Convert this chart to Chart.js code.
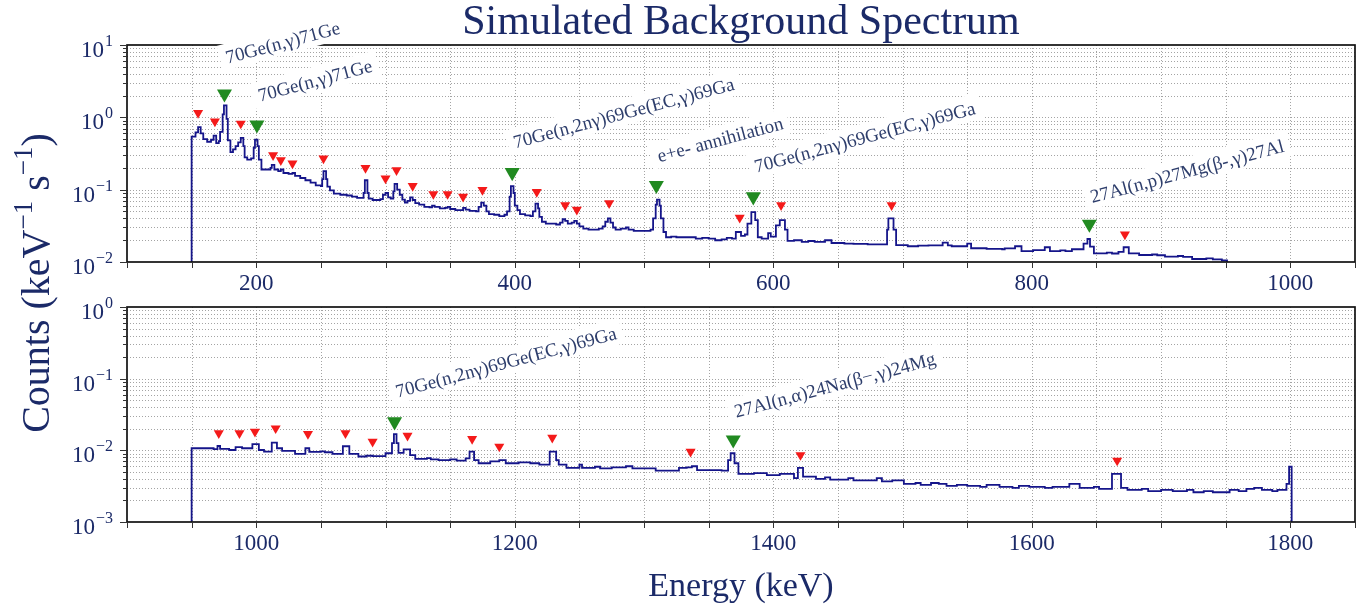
<!DOCTYPE html>
<html><head><meta charset="utf-8">
<script src="https://cdn.jsdelivr.net/npm/chart.js@4.4.1/dist/chart.umd.min.js"></script>
<style>
html,body{margin:0;padding:0;background:#fff;}
#wrap{position:relative;width:1369px;height:608px;overflow:hidden;background:#fff;}
#wrap canvas{position:absolute;left:0;top:0;}
</style></head><body>
<div id="wrap"><canvas id="c1" width="1369" height="608"></canvas><canvas id="c2" width="1369" height="608"></canvas></div>
<script>
// ---------------- DATA ----------------
const topEnergy = [149,150,153,155,157,159,162,165,167,169,171,172,174,175,177,178,180,182,184,186,188,190,191,193,196,198,199,201,202,204,208,211,212,214,217,219,221,225,228,230,234,238,242,246,250,251,252,254,255,257,260,265,270,274,278,283,284,286,287,290,296,298,300,302,304,306,307,309,311,313,315,317,319,321,323,326,330,334,336,338,342,346,348,350,354,358,360,362,365,370,372,374,376,378,380,384,388,392,394,396,397,399,400,402,404,408,412,414,416,418,419,421,424,428,432,435,437,439,441,444,446,448,450,453,457,461,465,468,470,472,474,476,478,482,486,488,492,500,505,507,509,510,512,513,515,517,521,525,530,535,540,545,550,555,560,564,568,571,575,578,580,583,586,588,591,596,598,602,605,609,611,616,622,627,632,640,645,655,662,673,688,689,693,695,704,712,720,731,735,738,750,753,765,777,779,787,792,801,810,814,822,826,831,840,843,845,848,858,862,867,871,875,883,893,897,903,913,917,924,935,940,947,951];
const topCounts = [0.0001,0.54,0.62,0.73,0.60,0.50,0.46,0.49,0.56,0.44,0.47,0.63,1.10,1.46,0.95,0.48,0.33,0.36,0.40,0.45,0.52,0.40,0.28,0.26,0.27,0.38,0.49,0.40,0.26,0.19,0.19,0.20,0.22,0.19,0.18,0.19,0.17,0.165,0.17,0.155,0.145,0.135,0.125,0.115,0.112,0.14,0.18,0.14,0.11,0.098,0.088,0.085,0.083,0.080,0.077,0.090,0.135,0.090,0.075,0.072,0.074,0.085,0.090,0.078,0.075,0.095,0.120,0.100,0.085,0.073,0.066,0.070,0.078,0.072,0.065,0.062,0.058,0.057,0.060,0.058,0.055,0.056,0.058,0.054,0.052,0.052,0.056,0.053,0.051,0.050,0.058,0.066,0.060,0.050,0.046,0.045,0.043,0.045,0.050,0.080,0.112,0.090,0.060,0.052,0.046,0.044,0.043,0.050,0.064,0.055,0.042,0.036,0.034,0.034,0.033,0.035,0.039,0.037,0.034,0.035,0.037,0.034,0.031,0.029,0.028,0.028,0.029,0.031,0.036,0.040,0.035,0.030,0.028,0.029,0.030,0.028,0.027,0.027,0.028,0.040,0.062,0.073,0.060,0.040,0.026,0.022,0.0225,0.022,0.022,0.022,0.021,0.0215,0.021,0.020,0.0205,0.0215,0.021,0.026,0.023,0.024,0.034,0.049,0.038,0.022,0.021,0.025,0.0225,0.032,0.038,0.028,0.0196,0.020,0.019,0.0195,0.019,0.020,0.0183,0.018,0.0178,0.0175,0.028,0.040,0.028,0.0171,0.0165,0.0168,0.017,0.0185,0.017,0.0165,0.018,0.0155,0.0152,0.015,0.0154,0.0165,0.0141,0.0146,0.016,0.0141,0.0145,0.0141,0.015,0.018,0.0208,0.0163,0.0132,0.0135,0.0131,0.0138,0.016,0.0132,0.0125,0.0127,0.0124,0.0119,0.0121,0.0118,0.011,0.0112,0.0109,0.0105,0.0001];

const botEnergy = [949,950,967,970,972,979,984,989,997,1002,1006,1012,1016,1020,1030,1038,1041,1050,1053,1059,1067,1072,1079,1085,1090,1100,1105,1106.5,1108.5,1110,1114,1119,1123,1132,1135,1141,1150,1155,1162,1165,1168.5,1172,1181,1188,1193,1203,1212,1219,1227,1232,1234,1240,1250,1252,1262,1266,1275,1286,1291,1309,1327,1333,1337,1341,1360,1365,1367,1370,1373,1385,1395,1405,1416,1419,1423,1433,1440,1444,1449,1458,1462,1468,1480,1484,1492,1501,1510,1514,1522,1528,1534,1542,1550,1560,1565,1575,1585,1590,1598,1610,1616,1629,1637,1648,1652,1662,1669,1674,1685,1690,1700,1709,1720,1725,1733,1740,1753,1760,1766,1772,1778,1786,1790,1797,1799,1801];
const botCounts = [0.0001,0.0107,0.0104,0.0115,0.0105,0.0101,0.0111,0.0107,0.0122,0.0101,0.0096,0.0128,0.0107,0.0098,0.0089,0.0107,0.0095,0.0097,0.0094,0.0089,0.0114,0.0089,0.0082,0.0084,0.0083,0.0091,0.0126,0.0168,0.0126,0.0092,0.0103,0.0086,0.0076,0.0078,0.0075,0.0073,0.0075,0.0072,0.0077,0.0096,0.0073,0.0066,0.0070,0.0073,0.0066,0.0068,0.0066,0.0063,0.0096,0.0073,0.0063,0.0057,0.0063,0.0057,0.0059,0.0056,0.0058,0.0060,0.0056,0.0052,0.0057,0.0058,0.0060,0.0053,0.0052,0.0073,0.0091,0.0066,0.0047,0.0048,0.0045,0.0047,0.0041,0.0057,0.0043,0.0040,0.0042,0.0039,0.0039,0.0041,0.0038,0.0038,0.0041,0.0037,0.0038,0.0034,0.0035,0.0033,0.0035,0.0034,0.0032,0.0033,0.0032,0.0031,0.0033,0.0031,0.0030,0.0032,0.0031,0.0030,0.0031,0.0034,0.0030,0.0031,0.0029,0.0047,0.0030,0.0028,0.0029,0.0027,0.0028,0.0027,0.0028,0.0026,0.0027,0.0026,0.0028,0.0027,0.0029,0.0030,0.0028,0.0027,0.0028,0.0034,0.0059,0.0001];

const topRedE = [155,168,188,213,219,228,252,284.5,300,308.5,321,337,348,360,375,417,439,448,473,574,606,691.5,872];
const topRedC = [1.15,0.88,0.82,0.30,0.255,0.23,0.27,0.20,0.143,0.186,0.113,0.087,0.087,0.080,0.099,0.093,0.061,0.053,0.065,0.041,0.061,0.061,0.024];
const topGreenE = [175.4,200.5,398,509.5,584.5,844.5];
const topGreenC = [2.12,0.79,0.173,0.115,0.080,0.0334];
const topLabels = ['70Ge(n,γ)71Ge','70Ge(n,γ)71Ge','70Ge(n,2nγ)69Ge(EC,γ)69Ga','e+e- annihilation','70Ge(n,2nγ)69Ge(EC,γ)69Ga','27Al(n,p)27Mg(β-,γ)27Al'];

const botRedE = [971,987,999,1015,1040,1069,1090,1117,1167,1188,1229,1336,1421,1666];
const botRedC = [0.0173,0.0173,0.0182,0.0203,0.0169,0.0173,0.0132,0.016,0.0144,0.0113,0.015,0.0096,0.0086,0.0072];
const botGreenE = [1107,1369];
const botGreenC = [0.0251,0.014];
const botLabels = ['70Ge(n,2nγ)69Ge(EC,γ)69Ga','27Al(n,α)24Na(β−,γ)24Mg'];

const topXTicks = [100,150,200,250,300,350,400,450,500,550,600,650,700,750,800,850,900,950,1000,1050];
const topXLabels = [200,400,600,800,1000];
const botXTicks = [900,950,1000,1050,1100,1150,1200,1250,1300,1350,1400,1450,1500,1550,1600,1650,1700,1750,1800,1850];
const botXLabels = [1000,1200,1400,1600,1800];
const topDecades = [-2,-1,0,1];
const botDecades = [-3,-2,-1,0];

const titleText = 'Simulated Background Spectrum';
const xTitle = 'Energy (keV)';

// ---------------- STYLE / LAYOUT ----------------
const SERIF = '"Liberation Serif","Times New Roman",Times,serif';
const NAVY = '#1b2a68';
const ANNO = '#2e3e6c';
const LINE = '#15158a';
const RED = '#f41a1a';
const GREEN = '#218a21';
const GRID = '#a4a4a4';
const topLabelDy = [30,23,24,23,24,21];
const botLabelDy = [24,22];
const LABEL_ANGLE = -15 * Math.PI / 180;
const LABEL_FONT = 19;

function minorTicks(decades){
  const out = [];
  decades.forEach((d, i) => {
    const last = i === decades.length - 1;
    for (let m = 1; m <= (last ? 1 : 9); m++) out.push(m * Math.pow(10, d));
  });
  return out;
}
function isPow10(v){ const l = Math.log10(v); return Math.abs(l - Math.round(l)) < 1e-6; }

function decorPlugin(o){
  return {
    id: 'decor' + o.id,
    beforeDatasetsDraw(chart){
      const {ctx, chartArea:a, scales:{x, y}} = chart;
      ctx.save();
      ctx.strokeStyle = GRID; ctx.lineWidth = 1; ctx.setLineDash([1,2]);
      x.ticks.forEach(t => {
        const p = Math.round(x.getPixelForValue(t.value)) + 0.5;
        if (p <= a.left + 2 || p >= a.right - 2) return;
        ctx.beginPath(); ctx.moveTo(p, a.top); ctx.lineTo(p, a.bottom); ctx.stroke();
      });
      y.ticks.forEach(t => {
        const p = Math.round(y.getPixelForValue(t.value)) + 0.5;
        if (p <= a.top + 2 || p >= a.bottom - 2) return;
        ctx.beginPath(); ctx.moveTo(a.left, p); ctx.lineTo(a.right, p); ctx.stroke();
      });
      ctx.restore();
    },
    afterDraw(chart){
      const {ctx, chartArea:a, scales:{x, y}} = chart;
      ctx.save();
      ctx.strokeStyle = '#111'; ctx.lineWidth = 1.7;
      ctx.strokeRect(a.left, a.top, a.right - a.left, a.bottom - a.top);
      ctx.lineWidth = 1; ctx.strokeStyle = '#333';
      x.ticks.forEach(t => {
        const p = Math.round(x.getPixelForValue(t.value)) + 0.5;
        ctx.beginPath(); ctx.moveTo(p, a.bottom); ctx.lineTo(p, a.bottom + 6); ctx.stroke();
      });
      y.ticks.forEach(t => {
        const p = Math.round(y.getPixelForValue(t.value)) + 0.5;
        const len = isPow10(t.value) ? 7 : 4;
        ctx.beginPath(); ctx.moveTo(a.left - len, p); ctx.lineTo(a.left, p); ctx.stroke();
      });
      ctx.fillStyle = NAVY; ctx.textBaseline = 'alphabetic'; ctx.textAlign = 'left';
      o.decades.forEach(d => {
        const p = y.getPixelForValue(Math.pow(10, d));
        const sup = d < 0 ? '\u2212' + (-d) : String(d);
        ctx.font = '23px ' + SERIF; const wb = ctx.measureText('10').width;
        ctx.font = '16px ' + SERIF; const ws = ctx.measureText(sup).width;
        const x0 = a.left - 14 - wb - ws - 1;
        ctx.font = '23px ' + SERIF; ctx.fillText('10', x0, p + 12);
        ctx.font = '16px ' + SERIF; ctx.fillText(sup, x0 + wb + 1, p + 1);
      });
      o.labels.forEach((txt, i) => {
        const px = x.getPixelForValue(o.greenE[i]);
        const py = y.getPixelForValue(o.greenC[i]);
        ctx.save();
        ctx.translate(px + 3, py - o.labelDy[i]);
        ctx.rotate(LABEL_ANGLE);
        ctx.font = LABEL_FONT + 'px ' + SERIF;
        const w = ctx.measureText(txt).width;
        ctx.fillStyle = '#fff';
        ctx.fillRect(-6, -LABEL_FONT - 1, w + 12, LABEL_FONT + 7);
        ctx.fillStyle = ANNO;
        ctx.fillText(txt, 0, 0);
        ctx.restore();
      });
      if (o.extra) o.extra(ctx, a);
      ctx.restore();
    }
  };
}

function buildChart(o){
  const pts = o.energy.map((e, i) => ({x: e, y: o.counts[i]}));
  const red = o.redE.map((e, i) => ({x: e, y: o.redC[i]}));
  const green = o.greenE.map((e, i) => ({x: e, y: o.greenC[i]}));
  const yTicks = minorTicks(o.decades);
  return new Chart(document.getElementById(o.id), {
    type: 'line',
    data: {datasets: [
      {data: pts, stepped: 'before', borderColor: LINE, borderWidth: 1.8, pointRadius: 0, fill: false, order: 3},
      {data: red, showLine: false, pointStyle: 'triangle', rotation: 180, pointRadius: 5.8, pointHoverRadius: 5.8, backgroundColor: RED, pointBackgroundColor: RED, pointBorderWidth: 0, order: 2, clip: false},
      {data: green, showLine: false, pointStyle: 'triangle', rotation: 180, pointRadius: 8.7, pointHoverRadius: 8.7, backgroundColor: GREEN, pointBackgroundColor: GREEN, pointBorderWidth: 0, order: 1, clip: false}
    ]},
    options: {
      responsive: false, animation: false, devicePixelRatio: 1, events: [],
      layout: {padding: o.padding},
      plugins: {legend: {display: false}, tooltip: {enabled: false}, title: {display: false}},
      scales: {
        x: {type: 'linear', min: o.xMin, max: o.xMax,
            afterBuildTicks: s => { s.ticks = o.xTicks.map(v => ({value: v})); },
            afterFit: s => { s.height = 40; },
            grid: {display: false, drawTicks: false}, border: {display: false},
            ticks: {color: NAVY, font: {family: SERIF, size: 23}, padding: 8, maxRotation: 0, minRotation: 0, autoSkip: false,
                    callback: v => o.xLabels.includes(v) ? String(v) : ''}},
        y: {type: 'logarithmic', min: o.yMin, max: o.yMax,
            afterBuildTicks: s => { s.ticks = yTicks.map(v => ({value: v})); },
            afterFit: s => { s.width = 127; },
            grid: {display: false, drawTicks: false}, border: {display: false},
            ticks: {display: false}}
      }
    },
    plugins: [decorPlugin(o)]
  });
}

buildChart({
  id: 'c1', energy: topEnergy, counts: topCounts, redE: topRedE, redC: topRedC, greenE: topGreenE, greenC: topGreenC,
  labels: topLabels, labelDy: topLabelDy, xTicks: topXTicks, xLabels: topXLabels, decades: topDecades,
  xMin: 100, xMax: 1050, yMin: 0.01, yMax: 10,
  padding: {left: 0, right: 14, top: 45, bottom: 306},
  extra: (ctx) => {
    ctx.fillStyle = NAVY; ctx.textAlign = 'center'; ctx.textBaseline = 'alphabetic';
    ctx.font = '42px ' + SERIF; ctx.fillText(titleText, 741, 34);
    ctx.save();
    ctx.translate(49, 283); ctx.rotate(-Math.PI / 2);
    const segs = [['Counts (keV', 40, 0], ['\u22121', 27, -17], [' s', 40, 0], ['\u22121', 27, -17], [')', 40, 0]];
    let total = 0;
    segs.forEach(s => { ctx.font = s[1] + 'px ' + SERIF; s.push(ctx.measureText(s[0]).width); total += s[3]; });
    let cx = -total / 2; ctx.textAlign = 'left';
    segs.forEach(s => { ctx.font = s[1] + 'px ' + SERIF; ctx.fillText(s[0], cx, s[2]); cx += s[3]; });
    ctx.restore();
  }
});
buildChart({
  id: 'c2', energy: botEnergy, counts: botCounts, redE: botRedE, redC: botRedC, greenE: botGreenE, greenC: botGreenC,
  labels: botLabels, labelDy: botLabelDy, xTicks: botXTicks, xLabels: botXLabels, decades: botDecades,
  xMin: 900, xMax: 1850, yMin: 0.001, yMax: 1,
  padding: {left: 0, right: 14, top: 307, bottom: 46},
  extra: (ctx) => {
    ctx.fillStyle = NAVY; ctx.textAlign = 'center'; ctx.textBaseline = 'alphabetic';
    ctx.font = '34px ' + SERIF; ctx.fillText(xTitle, 741, 596);
  }
});
</script></body></html>
